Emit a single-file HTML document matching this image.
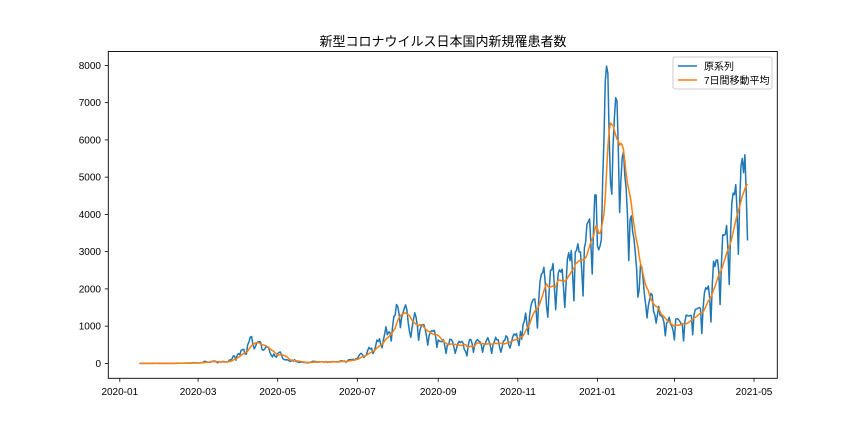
<!DOCTYPE html>
<html><head><meta charset="utf-8">
<style>
html,body{margin:0;padding:0;background:#fff;}
svg{display:block;font-family:"Liberation Sans","Noto Sans CJK JP",sans-serif;}
</style></head>
<body>
<svg id="chart" width="864" height="432" viewBox="0 0 864 432" xmlns="http://www.w3.org/2000/svg">
<rect width="864" height="432" fill="#fff"/>
<text x="443" y="46" font-size="13" text-anchor="middle" fill="#000">新型コロナウイルス日本国内新規罹患者数</text>
<g id="plot"></g>
<rect x="108.3" y="51.5" width="669" height="326.8" fill="none" stroke="#000" stroke-width="0.9"/>
<g>
<rect x="673" y="57" width="99" height="32" fill="#fff" fill-opacity="0.8" stroke="#ccc" rx="2"/>
<line x1="678" y1="66" x2="697" y2="66" stroke="#1f77b4" stroke-width="1.5"/>
<text x="704" y="70" font-size="10">原系列</text>
<line x1="678" y1="80" x2="697" y2="80" stroke="#ff7f0e" stroke-width="1.5"/>
<text x="704" y="84" font-size="10">7日間移動平均</text>
</g>
</svg>
<script>
const startDay = 15; // 2020-01-16, days since 2020-01-01
const cases = [
1,0,0,0,0,0,0,
0,1,1,0,1,1,3,
3,2,3,0,0,2,0,
1,0,0,0,0,0,1,
4,8,6,7,4,6,3,
8,9,12,6,10,8,14,
20,16,9,18,12,15,24,
33,59,47,36,30,26,54,
52,62,62,39,15,44,39,
35,55,41,41,39,41,93,
96,123,201,194,87,225,266,
235,351,367,378,254,248,503,
576,708,720,507,391,457,550,
582,585,568,372,354,385,450,
438,436,304,218,173,255,193,
167,261,296,307,212,125,100,
95,100,85,65,55,95,57,
99,51,48,30,23,45,28,
29,22,27,13,20,35,39,
59,51,53,29,34,39,41,
46,36,39,47,27,44,35,
42,52,48,46,36,37,41,
68,68,57,67,38,44,92,
99,103,100,111,86,130,126,
191,247,273,235,160,198,226,
353,429,384,410,262,329,455,
625,590,660,509,420,630,796,
985,768,840,835,600,975,1260,
1300,1580,1530,1330,960,1240,1350,
1480,1570,1440,1100,850,700,970,
1170,1360,1240,1010,620,890,1000,
1040,1040,920,740,490,740,840,
880,860,890,730,430,630,590,
590,580,640,470,270,490,500,
650,640,580,440,270,400,530,
590,560,590,550,370,320,200,
480,640,640,530,300,510,600,
640,600,580,500,300,480,520,
620,690,590,460,270,500,580,
700,630,630,440,300,440,600,
620,740,700,500,410,550,700,
790,760,800,610,480,860,650,
1040,1140,1350,1050,780,1280,1540,
1660,1720,1730,1440,950,1680,2200,
2390,2430,2580,2160,1530,1240,1930,
2500,2510,2680,2060,1440,2030,2430,
2510,2450,2530,2030,1500,2160,2800,
2970,2760,3030,2390,1680,2990,3030,
3210,2990,2990,2500,1810,3100,3270,
3740,3800,3880,3200,2400,3600,4520,
4520,3160,3050,3150,3320,4900,6000,
7570,7980,7790,6090,4880,4540,5870,
6600,7130,7040,5760,4050,4920,5530,
5680,5030,4700,3990,2760,3850,3960,
3530,3350,2970,2560,1780,1980,2640,
2590,2260,1860,1570,1220,1550,1710,
1880,1830,1400,1300,1080,1310,1530,
1290,1280,1230,1100,740,1080,1130,
1240,1060,1000,880,630,1190,1200,
1180,1140,1070,1060,600,1120,1300,
1280,1270,1290,1280,770,1300,1450,
1460,1480,1500,1470,800,1500,1900,
2030,1990,2080,1770,1110,2110,2740,
2600,2770,2780,2470,1580,2650,3450,
3440,3460,3700,3060,2120,3450,4310,
4570,4530,4800,4090,2930,4300,5300,
5500,5120,5600,4610,3300
];
const yTicks = [0,1000,2000,3000,4000,5000,6000,7000,8000];
const xTickLabels = ["2020-01","2020-03","2020-05","2020-07","2020-09","2020-11","2021-01","2021-03","2021-05"];
const xTickDays = [0,60,121,182,244,305,366,425,486];

const NS = "http://www.w3.org/2000/svg";
function xPos(d){ return 119.8 + d*1.3050; }
function yPos(v){ return 363.4 - v*0.03725; }
const g = document.getElementById('plot');
function mk(tag, attrs){ const e=document.createElementNS(NS,tag); for(const k in attrs) e.setAttribute(k,attrs[k]); return e; }

yTicks.forEach(function(t){
  const y=yPos(t);
  const l=mk('line',{x1:104.8,x2:108.3,y1:y,y2:y,stroke:'#000','stroke-width':0.8});
  
  
  g.appendChild(l);
  const tx=mk('text',{x:101,y:y+3.5,'font-size':10,'text-anchor':'end'});
  
  
  tx.textContent=t; g.appendChild(tx);
});
xTickLabels.forEach(function(lab,i){
  const x=xPos(xTickDays[i]);
  const l=mk('line',{x1:x,x2:x,y1:378.3,y2:381.8,stroke:'#000','stroke-width':0.8});
  
  
  g.appendChild(l);
  const tx=mk('text',{x:x,y:395,'font-size':10,'text-anchor':'middle'});
  
  
  tx.textContent=lab; g.appendChild(tx);
});

let p1='';
cases.forEach(function(v,i){ p1 += (i?'L':'M') + xPos(startDay+i).toFixed(2)+','+yPos(v).toFixed(2); });
const raw=mk('path',{d:p1,fill:'none',stroke:'#1f77b4','stroke-width':1.5,'stroke-linejoin':'round'});


g.appendChild(raw);

let p2='';
cases.forEach(function(v,i){
  const s=Math.max(0,i-6); let sum=0; for(let j=s;j<=i;j++) sum+=cases[j];
  const m=sum/(i-s+1);
  p2 += (i?'L':'M') + xPos(startDay+i).toFixed(2)+','+yPos(m).toFixed(2);
});
const ma=mk('path',{d:p2,fill:'none',stroke:'#ff7f0e','stroke-width':1.5,'stroke-linejoin':'round'});


g.appendChild(ma);
</script>
</body></html>
